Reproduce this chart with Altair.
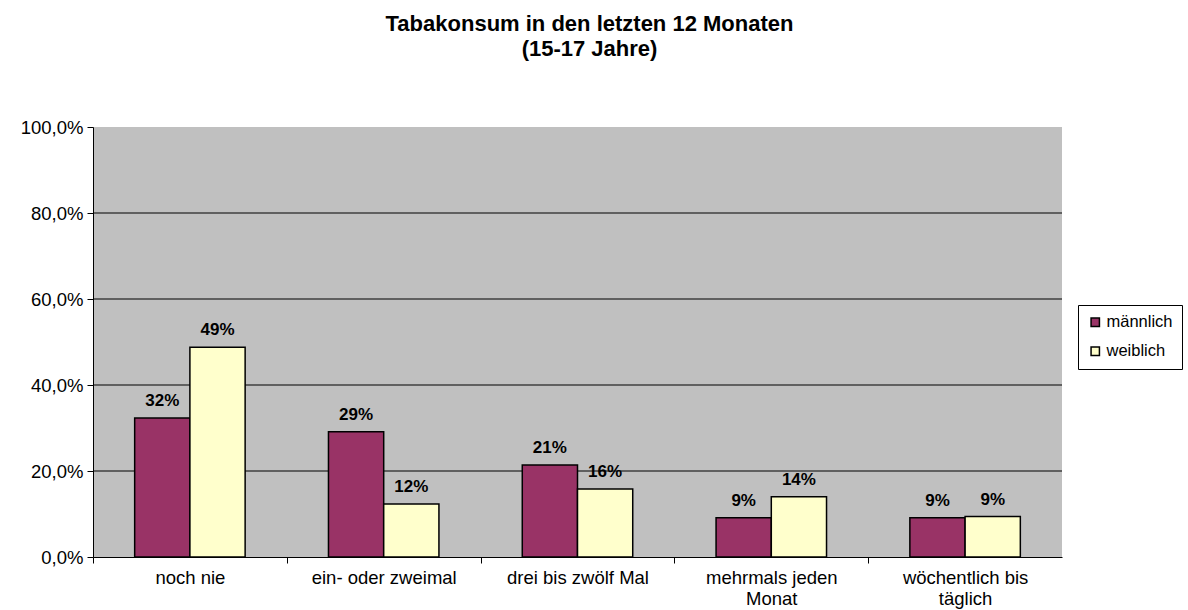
import altair as alt
import pandas as pd

categories = ["noch nie", "ein- oder zweimal", "drei bis zwölf Mal",
              "mehrmals jeden Monat", "wöchentlich bis täglich"]
series = ["männlich", "weiblich"]
maennlich = [0.323, 0.291, 0.214, 0.091, 0.091]
weiblich = [0.488, 0.123, 0.158, 0.140, 0.094]
grid_values = [0.2, 0.4, 0.6, 0.8]
y_ticks = [0.0, 0.2, 0.4, 0.6, 0.8, 1.0]

rows = []
for c, m, w in zip(categories, maennlich, weiblich):
    rows.append({"Kategorie": c, "Geschlecht": "männlich", "Wert": m})
    rows.append({"Kategorie": c, "Geschlecht": "weiblich", "Wert": w})
df = pd.DataFrame(rows)
grid_df = pd.DataFrame({"g": grid_values})

FONT = "Liberation Sans"
STEP = 969 / 5

label_expr = ("datum.label == 'mehrmals jeden Monat' ? ['mehrmals jeden', 'Monat'] : "
              "datum.label == 'wöchentlich bis täglich' ? ['wöchentlich bis', 'täglich'] : datum.label")

x = alt.X("Kategorie:N", sort=categories, title=None,
          scale=alt.Scale(paddingInner=0.43, paddingOuter=0.215),
          axis=alt.Axis(labelExpr=label_expr, labelAngle=0, labelFontSize=18.5, labelFont=FONT,
                        labelColor="black", ticks=True, tickColor="black", tickSize=6,
                        tickOffset=-STEP / 2, labelOffset=STEP / 2,
                        domainColor="black", labelPadding=5, labelLineHeight=21))
y = alt.Y("Wert:Q", title=None,
          scale=alt.Scale(domain=[0, 1], nice=False),
          axis=alt.Axis(values=y_ticks, labelExpr="replace(format(datum.value, '.1%'), '.', ',')",
                        labelFontSize=18.5, labelFont=FONT, labelColor="black", grid=False,
                        tickColor="black", tickSize=6, domainColor="black", labelPadding=4))

bars = alt.Chart(df).mark_bar(stroke="black", strokeWidth=1.5).encode(
    x=x, y=y,
    xOffset=alt.XOffset("Geschlecht:N", sort=series),
    color=alt.Color("Geschlecht:N", sort=series,
                    scale=alt.Scale(domain=series, range=["#993366", "#FFFFCC"]),
                    legend=alt.Legend(title=None, orient="none", legendX=985, legendY=178,
                                      strokeColor="black", fillColor="white", padding=9,
                                      symbolType="square", symbolSize=70, symbolStrokeColor="black",
                                      symbolStrokeWidth=1.5, labelFont=FONT, labelFontSize=16.5,
                                      labelColor="black", rowPadding=12, labelOffset=3)),
)

texts = alt.Chart(df).mark_text(dy=-17, fontSize=17, fontWeight="bold", font=FONT, color="black").encode(
    x=alt.X("Kategorie:N", sort=categories),
    y=alt.Y("Wert:Q"),
    xOffset=alt.XOffset("Geschlecht:N", sort=series),
    text=alt.Text("Wert:Q", format=".0%"),
)

grid = alt.Chart(grid_df).mark_rule(color="black", strokeWidth=1).encode(y=alt.Y("g:Q"))

chart = alt.layer(grid, bars, texts).properties(
    width=969, height=430,
    title=alt.TitleParams(["Tabakonsum  in den letzten 12 Monaten", "(15-17  Jahre)"],
                          font=FONT, fontSize=22, fontWeight="bold", color="black",
                          anchor="middle", offset=57, dx=12, lineHeight=25),
    autosize=alt.AutoSizeParams(type="none"),
    padding={"left": 93, "top": 127, "right": 126, "bottom": 53},
).configure(background="white").configure_view(fill="#C0C0C0", stroke=None)

chart.save("out.html", embed_options={"renderer": "svg", "actions": False})
